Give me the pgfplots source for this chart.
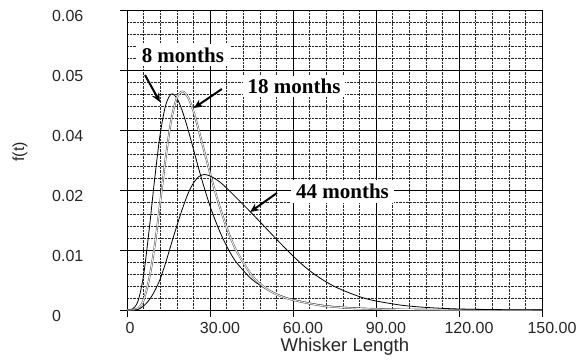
\documentclass[border=0pt]{standalone}
\usepackage{pgfplots}
\pgfplotsset{compat=1.18}
\usepackage{fontspec}
\setmainfont{Liberation Sans}
\newfontfamily\timesf{Liberation Serif}
\usetikzlibrary{arrows.meta}

\pgfplotstableread{
x y
0 0
2 0.0002
4 0.0018
6 0.0070
8 0.0160
10 0.0262
12 0.0352
14 0.0410
16 0.0432
18 0.0424
20 0.0398
22 0.0362
24 0.0322
26 0.0281
28 0.0243
30 0.0208
32 0.0178
34 0.0151
36 0.0128
38 0.0108
40 0.0092
45 0.0062
50 0.0043
55 0.0030
60 0.0021
70 0.0010
80 0.0005
90 0.00025
100 0.00012
120 0.00003
150 0
}\eightm

\pgfplotstableread{
x y
0 0
4 0.0003
6 0.0020
8 0.0062
10 0.0128
12 0.0215
14 0.0305
16 0.0380
18 0.0424
20 0.0437
22 0.0426
24 0.0398
26 0.0358
28 0.0316
30 0.0274
32 0.0234
34 0.0198
36 0.0165
38 0.0137
40 0.0114
45 0.0070
50 0.0044
55 0.0029
60 0.0020
70 0.0009
80 0.0004
90 0.0002
100 0.0001
120 0.00002
150 0
}\eighteenm

\pgfplotstableread{
x y
0 0
2 0
4 0.0001
6 0.0008
8 0.0020
10 0.0038
12 0.0062
14 0.0095
16 0.0132
18 0.0168
20 0.0202
22 0.0232
24 0.0254
26 0.0267
28 0.0271
30 0.0268
32 0.0262
34 0.0254
36 0.0244
38 0.0233
40 0.0222
45 0.0194
50 0.0165
55 0.0136
60 0.0108
65 0.0083
70 0.0063
75 0.0047
80 0.0035
85 0.0025
90 0.0018
100 0.0009
110 0.00045
120 0.0002
130 0.0001
140 0.00005
150 0.00002
}\fortyfourm

\begin{document}
\begin{tikzpicture}
\path[use as bounding box] (0pt,0pt) rectangle (582pt,362pt);
\begin{axis}[
  at={(127pt,52pt)}, anchor=south west,
  scale only axis, width=415pt, height=300pt,
  xmin=0, xmax=150, ymin=0, ymax=0.06,
  scaled x ticks=false, scaled y ticks=false,
  xtick={0,30,60,90,120,150},
  xticklabels={\makebox[0pt][c]{\hspace*{-14pt}0},30.00,60.00,90.00,120.00,150.00},
  ytick={0,0.012,0.024,0.036,0.048,0.06},
  yticklabels={0,0.01,0.02,0.04,0.05,0.06},
  minor xtick={6,12,18,24,36,42,48,54,66,72,78,84,96,102,108,114,126,132,138,144},
  minor ytick={0.0024,0.0048,0.0072,0.0096,0.0144,0.0168,0.0192,0.0216,0.0264,0.0288,0.0312,0.0336,0.0384,0.0408,0.0432,0.0456,0.0504,0.0528,0.0552,0.0576},
  grid=both,
  major grid style={black, line width=0.5pt},
  minor grid style={black!85, densely dotted, line width=0.5pt},
  tick align=outside, tick pos=left,
  major tick length=7pt, minor tick length=0pt,
  tick style={black, line width=0.7pt},
  axis line style={black, line width=0.8pt},
  /pgf/number format/assume math mode=true,
  tick label style={font=\fontsize{16}{18}\selectfont, text=black!85},
  yticklabel style={anchor=west, inner sep=0pt, xshift=-68pt, yshift=-6pt},
  xticklabel style={anchor=north, inner sep=0pt, xshift=10pt, yshift=-5pt},
  xlabel={Whisker Length},
  ylabel={f(t)},
  every axis x label/.style={at={(axis description cs:0.525,0)}, anchor=center, yshift=-37pt, font=\fontsize{18.5}{21}\selectfont, text=black!85},
  every axis y label/.style={at={(axis description cs:-0.258,0.527)}, anchor=center, rotate=90, font=\fontsize{16}{18}\selectfont, text=black!85},
  clip=false,
]
\addplot[black, line width=0.8pt, smooth] table[x=x,y=y] {\eightm};
\addplot[black!60, line width=0.6pt, double=white, double distance=0.7pt, smooth] table[x=x,y=y] {\eighteenm};
\addplot[black, line width=0.8pt, smooth] table[x=x,y=y] {\fortyfourm};

\node[fill=white, inner xsep=6pt, inner ysep=4pt, font=\timesf\bfseries\fontsize{21}{24}\selectfont] at (axis cs:20.2,0.051) {8 months};
\node[fill=white, inner xsep=5pt, inner ysep=3pt, font=\timesf\bfseries\fontsize{21}{24}\selectfont] at (axis cs:60.4,0.0447) {18 months};
\node[fill=white, inner xsep=5pt, inner ysep=4pt, font=\timesf\bfseries\fontsize{21}{24}\selectfont] at (axis cs:77.9,0.0237) {44 months};

\draw[-{Stealth[length=9pt,width=8pt]}, line width=2pt] (axis cs:6.5,0.047) -- (axis cs:11.9,0.0416);
\draw[-{Stealth[length=9pt,width=8pt]}, line width=2pt] (axis cs:34.3,0.0442) -- (axis cs:24.2,0.0404);
\draw[-{Stealth[length=9pt,width=8pt]}, line width=2pt] (axis cs:54.2,0.0234) -- (axis cs:44.5,0.0196);
\end{axis}
\end{tikzpicture}
\end{document}
